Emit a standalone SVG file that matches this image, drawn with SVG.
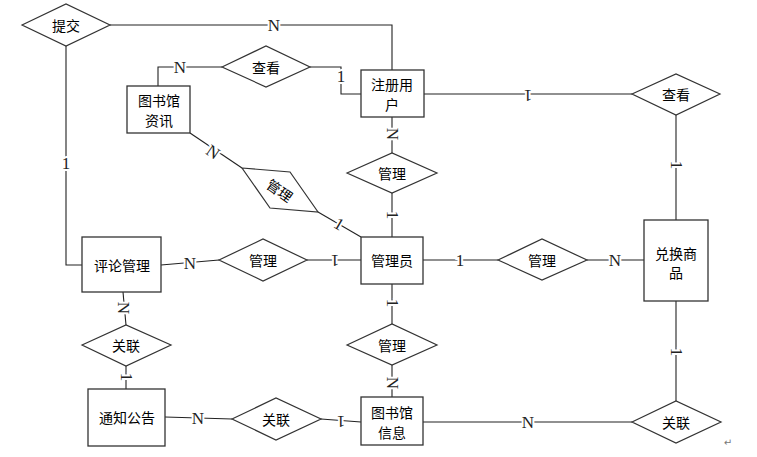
<svg xmlns="http://www.w3.org/2000/svg" width="757" height="457" viewBox="0 0 757 457">
<style>
.box{fill:#fff;stroke:#333;stroke-width:1.3}
.dia{fill:#fff;stroke:#333;stroke-width:1.2}
.ln{fill:none;stroke:#222;stroke-width:1.1}
.t{font-family:"Noto Sans CJK SC",sans-serif;font-size:14px;text-anchor:middle;dominant-baseline:central;fill:#000}
.lab{font-family:"Liberation Serif",serif;font-size:17px;text-anchor:middle;dominant-baseline:central;fill:#222;stroke:#fff;stroke-width:4;paint-order:stroke}
</style>
<rect width="757" height="457" fill="#fff"/>
<g id="connectors">
<polyline class="ln" points="110,25 392,25 392,70"/>
<polyline class="ln" points="66,46 66,265 82,265"/>
<polyline class="ln" points="222,67 158,67 158,86"/>
<polyline class="ln" points="310,67 341,67 341,94 361,94"/>
<line class="ln" x1="424" y1="94" x2="632" y2="94"/>
<line class="ln" x1="676" y1="115" x2="676" y2="220"/>
<line class="ln" x1="392" y1="117" x2="392" y2="153"/>
<line class="ln" x1="392" y1="193" x2="392" y2="237"/>
<line class="ln" x1="190" y1="133" x2="242" y2="168"/>
<line class="ln" x1="318" y1="212" x2="361" y2="237"/>
<line class="ln" x1="161" y1="265" x2="219" y2="260"/>
<line class="ln" x1="307" y1="260" x2="361" y2="260"/>
<line class="ln" x1="423" y1="260" x2="498" y2="260"/>
<line class="ln" x1="587" y1="260" x2="644" y2="260"/>
<line class="ln" x1="676" y1="301" x2="676" y2="401"/>
<line class="ln" x1="392" y1="284" x2="392" y2="324"/>
<line class="ln" x1="392" y1="365" x2="392" y2="397"/>
<line class="ln" x1="423" y1="422" x2="632" y2="422"/>
<line class="ln" x1="165" y1="417" x2="232" y2="419"/>
<line class="ln" x1="321" y1="419" x2="361" y2="422"/>
<line class="ln" x1="123" y1="292" x2="126" y2="325"/>
<line class="ln" x1="126" y1="366" x2="126" y2="389"/>
<text class="lab" x="274" y="25">N</text>
<text class="lab" x="66" y="163">1</text>
<text class="lab" x="180" y="67">N</text>
<text class="lab" x="341" y="76">1</text>
<text class="lab" transform="rotate(180 528 95)" x="528" y="95">1</text>
<text class="lab" transform="rotate(90 676 165)" x="676" y="165">1</text>
<text class="lab" transform="rotate(90 392 134)" x="392" y="134">N</text>
<text class="lab" transform="rotate(90 392 215)" x="392" y="215">1</text>
<text class="lab" transform="rotate(34 213 152)" x="213" y="152">N</text>
<text class="lab" transform="rotate(30 339 224)" x="339" y="224">1</text>
<text class="lab" x="190" y="263">N</text>
<text class="lab" transform="rotate(180 335 260)" x="335" y="260">1</text>
<text class="lab" x="460" y="260">1</text>
<text class="lab" x="615" y="260">N</text>
<text class="lab" transform="rotate(90 676 352)" x="676" y="352">1</text>
<text class="lab" transform="rotate(90 392 303)" x="392" y="303">1</text>
<text class="lab" transform="rotate(90 392 383)" x="392" y="383">N</text>
<text class="lab" x="528" y="422">N</text>
<text class="lab" x="198" y="418">N</text>
<text class="lab" transform="rotate(180 341 421)" x="341" y="421">1</text>
<text class="lab" transform="rotate(90 123 308)" x="123" y="308">N</text>
<text class="lab" transform="rotate(90 126 377)" x="126" y="377">1</text>
</g>
<g id="submit"><polygon class="dia" points="22,25 66,4 110,25 66,46"/><text class="t" x="66" y="25">提交</text></g>
<g id="view-left"><polygon class="dia" points="222,67 266,46 310,67 266,87"/><text class="t" x="266" y="67">查看</text></g>
<g id="view-right"><polygon class="dia" points="632,94 676,74 720,94 676,115"/><text class="t" x="676" y="94">查看</text></g>
<g id="lib-news"><rect class="box" x="127" y="86" width="63" height="47"/><text class="t" x="159" y="100">图书馆</text><text class="t" x="159" y="120">资讯</text></g>
<g id="reg-user"><rect class="box" x="361" y="70" width="63" height="47"/><text class="t" x="392" y="84">注册用</text><text class="t" x="392" y="104">户</text></g>
<g id="manage-top"><polygon class="dia" points="347,173 392,153 437,173 392,193"/><text class="t" x="392" y="173">管理</text></g>
<g id="manage-rot"><polygon class="dia" points="242,168 290,172 318,212 270,208"/><text class="t" transform="rotate(35 280 190)" x="280" y="190">管理</text></g>
<g id="admin"><rect class="box" x="361" y="237" width="62" height="47"/><text class="t" x="392" y="260">管理员</text></g>
<g id="comment"><rect class="box" x="82" y="237" width="79" height="55"/><text class="t" x="122" y="265">评论管理</text></g>
<g id="manage-left"><polygon class="dia" points="219,260 263,239 307,260 263,281"/><text class="t" x="263" y="260">管理</text></g>
<g id="manage-right"><polygon class="dia" points="498,260 542,239 587,260 542,280"/><text class="t" x="542" y="260">管理</text></g>
<g id="goods"><rect class="box" x="644" y="220" width="64" height="81"/><text class="t" x="676" y="253">兑换商</text><text class="t" x="676" y="272">品</text></g>
<g id="manage-bottom"><polygon class="dia" points="347,345 392,324 437,345 392,365"/><text class="t" x="392" y="345">管理</text></g>
<g id="lib-info"><rect class="box" x="361" y="397" width="62" height="48"/><text class="t" x="392" y="412">图书馆</text><text class="t" x="392" y="432">信息</text></g>
<g id="relate-right"><polygon class="dia" points="632,422 676,401 721,422 676,443"/><text class="t" x="676" y="422">关联</text></g>
<g id="relate-mid"><polygon class="dia" points="232,419 276,398 321,419 276,440"/><text class="t" x="276" y="419">关联</text></g>
<g id="notice"><rect class="box" x="88" y="389" width="77" height="57"/><text class="t" x="127" y="417">通知公告</text></g>
<g id="relate-left"><polygon class="dia" points="82,345 126,325 171,345 126,366"/><text class="t" x="126" y="345">关联</text></g>
<text x="728" y="446" font-family="DejaVu Sans,sans-serif" font-size="10" fill="#777" text-anchor="middle">↵</text>
</svg>
